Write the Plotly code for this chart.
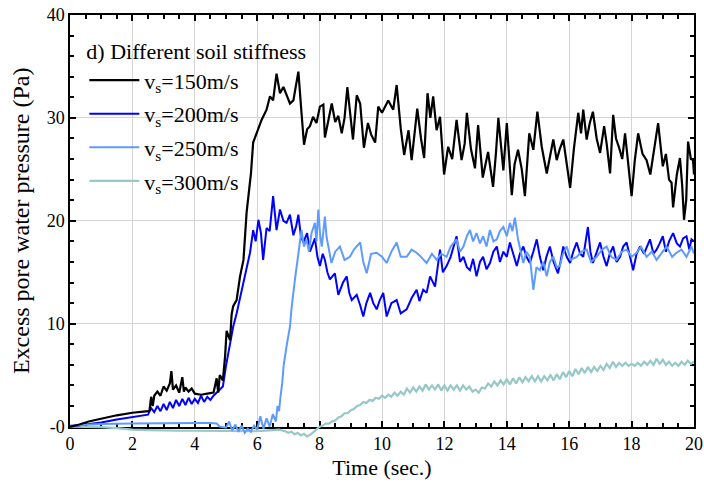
import plotly.graph_objects as go

# ---- data ----
t_150 = [0.0,0.3,0.6,1.0,1.5,2.0,2.5,2.55,2.6,2.65,2.7,2.8,2.9,3.0,3.1,3.2,3.25,3.3,3.4,3.5,3.6,3.65,3.7,3.8,3.9,4.0,4.2,4.4,4.6,4.7,4.75,4.8,4.9,4.97,5.02,5.13,5.18,5.23,5.34,5.45,5.56,5.66,5.75,5.8,5.87,6.03,6.14,6.3,6.41,6.51,6.62,6.73,6.84,6.96,7.05,7.16,7.32,7.42,7.5,7.6,7.69,7.79,7.9,8.01,8.12,8.17,8.23,8.39,8.5,8.6,8.71,8.8,8.89,9.0,9.07,9.19,9.3,9.42,9.55,9.65,9.78,9.88,10.0,10.2,10.36,10.47,10.6,10.71,10.85,10.95,11.05,11.13,11.25,11.35,11.46,11.55,11.64,11.75,11.86,11.99,12.12,12.25,12.39,12.55,12.65,12.72,12.85,12.98,13.08,13.23,13.4,13.56,13.65,13.73,13.89,14.0,14.16,14.25,14.36,14.48,14.58,14.72,14.85,14.98,15.12,15.28,15.4,15.49,15.6,15.7,15.81,15.92,16.03,16.15,16.29,16.38,16.45,16.56,16.66,16.76,16.88,16.99,17.12,17.2,17.31,17.41,17.5,17.6,17.7,17.79,17.9,18.0,18.1,18.21,18.35,18.48,18.6,18.72,18.85,19.0,19.1,19.2,19.28,19.33,19.45,19.55,19.62,19.68,19.75,19.81,19.9,19.97,20.0]
p_150 = [0.0,0.2,0.5,0.8,1.1,1.35,1.5,1.6,2.9,2.0,3.0,3.4,3.0,3.9,3.5,4.2,5.4,3.6,4.0,3.3,4.8,3.4,3.8,3.4,3.7,3.2,3.1,3.2,3.3,4.7,3.3,5.0,4.5,6.8,9.3,8.4,10.9,11.7,12.3,14.6,16.2,20.8,23.0,24.6,27.6,28.8,29.8,30.8,32.1,31.7,34.3,32.4,33.0,32.1,31.4,31.7,34.5,30.5,27.4,28.9,29.2,30.1,29.5,31.1,31.3,28.1,29.0,31.4,29.6,30.2,28.5,30.0,33.0,30.2,27.9,32.2,31.4,27.1,29.5,28.4,27.6,31.1,30.5,31.7,30.8,33.2,29.0,26.4,28.8,25.9,28.4,30.9,28.0,26.1,32.4,30.0,32.1,28.8,30.1,24.5,27.2,26.0,29.8,25.9,27.5,30.5,27.0,25.1,29.3,24.2,26.7,23.3,26.5,30.0,24.9,29.5,22.5,25.5,26.9,25.0,22.4,28.5,26.9,30.6,27.2,24.6,26.5,27.9,25.9,27.0,27.9,25.5,23.2,27.0,30.5,28.5,30.8,27.9,29.5,30.6,28.0,26.6,29.2,27.5,24.6,30.3,28.0,27.1,26.0,28.5,25.5,22.4,25.8,28.5,26.5,25.9,24.5,27.0,29.5,25.3,26.5,24.0,23.7,21.3,24.5,26.1,23.5,20.1,22.0,27.7,26.0,25.9,24.5]

t_200 = [0.0,0.5,1.0,1.5,2.0,2.5,2.6,2.7,2.8,2.9,3.0,3.1,3.2,3.3,3.4,3.5,3.6,3.7,3.8,3.9,4.0,4.1,4.2,4.3,4.4,4.5,4.6,4.7,4.8,4.9,5.0,5.1,5.23,5.34,5.45,5.56,5.66,5.77,5.87,5.95,6.04,6.12,6.19,6.3,6.4,6.51,6.62,6.73,6.84,6.94,7.05,7.16,7.25,7.32,7.4,7.48,7.6,7.69,7.85,7.93,8.01,8.1,8.17,8.25,8.33,8.49,8.6,8.75,8.87,8.95,9.03,9.19,9.3,9.4,9.5,9.62,9.72,9.83,9.93,10.04,10.15,10.3,10.47,10.6,10.79,10.95,11.11,11.2,11.32,11.43,11.54,11.7,11.86,11.95,12.07,12.2,12.39,12.5,12.61,12.72,12.82,12.92,13.03,13.14,13.24,13.35,13.46,13.57,13.68,13.78,13.89,14.0,14.1,14.2,14.32,14.42,14.53,14.63,14.74,14.85,14.96,15.06,15.17,15.27,15.38,15.5,15.64,15.72,15.81,15.92,16.03,16.13,16.24,16.35,16.45,16.6,16.68,16.76,16.88,16.99,17.1,17.2,17.3,17.41,17.52,17.63,17.73,17.84,17.95,18.05,18.16,18.27,18.4,18.5,18.59,18.7,18.8,18.9,19.0,19.1,19.2,19.33,19.45,19.55,19.65,19.76,19.85,19.92,20.0]
p_200 = [0.0,0.2,0.4,0.7,0.94,1.16,1.8,1.4,2.0,1.5,2.2,1.6,2.4,1.8,2.6,2.0,2.7,2.1,2.8,2.2,2.7,2.3,3.0,2.4,2.9,2.6,3.0,3.3,3.6,3.9,5.9,7.5,9.7,11.0,12.5,14.3,15.5,16.9,19.1,18.0,20.1,18.8,16.2,19.3,19.0,22.4,19.1,21.1,20.0,19.8,20.6,18.6,19.5,20.6,18.5,17.9,18.8,17.0,18.3,16.5,15.6,16.8,16.2,15.0,14.3,14.9,12.8,14.0,14.6,13.0,12.3,12.8,11.8,10.7,12.0,13.0,12.0,11.4,12.3,13.0,10.7,12.0,12.3,11.0,11.4,12.5,13.3,12.2,13.3,13.0,14.6,13.6,17.2,15.0,15.6,16.5,18.5,16.0,16.5,15.5,15.2,16.3,14.6,16.0,16.5,15.3,15.9,17.0,17.5,16.0,17.0,16.5,17.9,16.8,15.6,16.8,17.5,16.5,15.9,17.0,18.2,16.5,15.2,16.5,17.5,16.0,14.9,16.0,17.5,16.5,15.9,17.0,17.9,16.8,16.5,19.4,17.0,15.9,17.0,17.9,16.5,15.6,16.8,17.5,16.0,16.5,17.5,17.9,16.5,15.2,16.8,17.5,16.8,17.5,18.2,16.8,17.2,17.8,18.5,17.0,18.0,18.8,17.8,17.5,18.3,18.5,17.2,18.2,18.0]

t_250 = [0.0,0.5,1.0,2.0,3.0,4.0,4.5,4.7,4.8,5.0,5.1,5.2,5.3,5.4,5.5,5.6,5.7,5.8,5.9,6.0,6.1,6.2,6.3,6.4,6.5,6.6,6.65,6.7,6.75,6.8,6.85,6.9,6.95,7.05,7.1,7.21,7.32,7.42,7.5,7.58,7.66,7.74,7.85,7.9,7.96,8.02,8.07,8.17,8.22,8.28,8.38,8.5,8.65,8.8,8.97,9.1,9.3,9.4,9.51,9.65,9.83,10.0,10.15,10.3,10.47,10.6,10.79,10.95,11.11,11.25,11.43,11.6,11.75,11.9,12.07,12.2,12.39,12.5,12.61,12.72,12.82,12.92,13.03,13.14,13.24,13.35,13.46,13.57,13.68,13.78,13.89,14.0,14.1,14.18,14.26,14.36,14.45,14.53,14.63,14.74,14.85,14.95,15.06,15.17,15.28,15.38,15.49,15.6,15.7,15.8,15.92,16.05,16.24,16.4,16.56,16.7,16.88,17.05,17.2,17.35,17.52,17.68,17.84,18.0,18.16,18.3,18.48,18.65,18.8,18.95,19.12,19.3,19.44,19.6,19.76,19.92,20.0]
p_250 = [0.1,0.2,0.25,0.3,0.35,0.35,0.35,0.3,0.0,-0.1,0.5,-0.4,0.2,-0.5,0.1,-0.6,-0.2,-0.5,0.1,-0.3,1.0,-0.2,0.8,0.0,1.2,0.5,2.0,1.5,3.0,4.2,6.0,7.2,8.0,9.7,11.5,14.3,16.9,19.1,17.5,18.2,17.0,18.8,19.8,18.0,21.1,18.5,17.5,20.4,18.5,17.5,15.9,17.0,17.5,16.2,16.5,17.2,17.9,16.0,14.9,16.8,16.9,16.5,15.9,17.0,17.9,16.5,16.5,17.2,16.9,16.5,15.9,16.8,16.2,16.8,16.5,17.5,18.2,17.0,17.5,18.5,19.1,18.0,18.8,17.8,18.5,17.5,19.1,18.0,18.2,19.0,19.4,18.5,19.8,19.0,20.3,18.2,17.0,15.9,17.0,16.5,13.3,15.5,15.2,16.0,14.6,16.0,16.5,15.5,15.6,16.8,17.5,16.2,16.5,17.0,17.2,16.0,16.5,17.2,17.5,16.5,16.2,17.0,17.2,16.5,16.9,17.5,16.5,17.0,16.2,16.8,17.5,16.5,16.9,17.2,16.5,17.5,16.8]

t_300 = [0.0,0.5,1.0,1.5,2.0,2.5,3.0,3.5,4.0,4.5,5.0,5.5,6.0,6.5,6.7,6.9,7.0,7.1,7.2,7.3,7.4,7.5,7.6,7.7,7.8,7.9,8.0,8.1,8.2,8.3,8.4,8.5,8.6,8.7,8.8,8.9,9.0,9.1,9.2,9.3,9.4,9.5,9.6,9.7,9.8,9.9,10.0,10.1,10.2,10.3,10.4,10.5,10.6,10.7,10.8,10.9,11.0,11.1,11.2,11.3,11.4,11.5,11.6,11.7,11.8,11.9,12.0,12.1,12.2,12.3,12.4,12.5,12.6,12.7,12.8,12.9,13.0,13.1,13.2,13.3,13.4,13.5,13.6,13.7,13.8,13.9,14.0,14.1,14.2,14.3,14.4,14.5,14.6,14.7,14.8,14.9,15.0,15.1,15.2,15.3,15.4,15.5,15.6,15.7,15.8,15.9,16.0,16.1,16.2,16.3,16.4,16.5,16.6,16.7,16.8,16.9,17.0,17.1,17.2,17.3,17.4,17.5,17.6,17.7,17.8,17.9,18.0,18.1,18.2,18.3,18.4,18.5,18.6,18.7,18.8,18.9,19.0,19.1,19.2,19.3,19.4,19.5,19.6,19.7,19.8,19.9,20.0]
p_300 = [0.0,0.0,-0.05,-0.15,-0.3,-0.35,-0.4,-0.4,-0.4,-0.4,-0.45,-0.45,-0.45,-0.35,-0.3,-0.45,-0.6,-0.5,-0.75,-0.6,-0.85,-0.7,-0.95,-0.8,-0.5,-0.3,0.0,0.1,0.3,0.3,0.5,0.6,0.9,1.0,1.3,1.3,1.6,1.7,2.0,2.1,2.4,2.3,2.6,2.5,2.8,2.7,3.0,2.8,3.1,2.9,3.3,3.0,3.4,3.1,3.7,3.3,3.8,3.4,3.9,3.5,4.1,3.6,4.0,3.6,4.1,3.5,4.0,3.5,4.0,3.6,4.0,3.5,4.0,3.6,3.9,3.4,3.6,3.3,3.8,3.7,4.2,3.9,4.4,4.0,4.5,4.1,4.6,4.1,4.7,4.2,4.8,4.3,4.8,4.4,4.9,4.4,4.9,4.4,4.9,4.5,5.0,4.5,5.1,4.6,5.3,4.8,5.4,4.9,5.6,5.1,5.7,5.2,5.8,5.3,5.8,5.4,5.9,5.5,6.1,5.7,6.3,5.8,6.2,5.9,6.2,5.9,6.1,5.9,6.2,5.9,6.3,6.0,6.4,6.0,6.6,6.1,6.5,6.0,6.3,5.9,6.2,5.9,6.3,6.0,6.4,6.1,6.3]

names = ["v<sub>s</sub>=150m/s", "v<sub>s</sub>=200m/s", "v<sub>s</sub>=250m/s", "v<sub>s</sub>=300m/s"]
colors = ["#000000", "#0000FF", "#5E9BFF", "#96C8C8"]
widths = [2.2, 2.0, 2.0, 2.2]

x_ticks = [0, 2, 4, 6, 8, 10, 12, 14, 16, 18, 20]
y_ticks = [0, 10, 20, 30, 40]
y_ticktext = ["-0", "10", "20", "30", "40"]

FONT = "Liberation Serif, Times New Roman, serif"

# data subplot extends a little below zero so the curves are not clipped at the axis
Y_LOW = -1.3
d0 = -Y_LOW / (40 - Y_LOW)

fig = go.Figure()
# empty trace so the framed (visible) subplot is drawn
fig.add_trace(go.Scatter(x=[], y=[], mode="lines", showlegend=False, hoverinfo="skip",
                         xaxis="x", yaxis="y"))
series = [(t_300, p_300, 3), (t_200, p_200, 1), (t_250, p_250, 2), (t_150, p_150, 0)]
for t, p, i in series:
    fig.add_trace(go.Scatter(
        x=t, y=p, mode="lines", name=names[i],
        line=dict(color=colors[i], width=widths[i]),
        legendrank=i + 1, legendgroup=str(i),
        xaxis="x2", yaxis="y2",
    ))

axis_common = dict(
    showline=True, linecolor="black", linewidth=1.5, mirror="allticks",
    ticks="inside", ticklen=6, tickwidth=1.5, tickcolor="black",
    showgrid=True, gridcolor="#d4d4d4", gridwidth=1,
    zeroline=False, automargin=False,
    tickfont=dict(family=FONT, size=18, color="black"),
)

fig.update_layout(
    xaxis=dict(
        range=[0, 20], tickvals=x_ticks, domain=[0, 1], anchor="y",
        minor=dict(dtick=0.5, ticks="inside", ticklen=4, tickcolor="black", showgrid=False),
        title=dict(text="Time (sec.)", font=dict(family=FONT, size=22, color="black"), standoff=7),
        **axis_common,
    ),
    yaxis=dict(
        range=[0, 40], tickvals=y_ticks, ticktext=y_ticktext, domain=[d0, 1], anchor="x",
        minor=dict(dtick=2, ticks="inside", ticklen=4, tickcolor="black", showgrid=False),
        title=dict(text="Excess pore water pressure (Pa)", font=dict(family=FONT, size=24, color="black"), standoff=10),
        **axis_common,
    ),
    xaxis2=dict(range=[0, 20], domain=[0, 1], anchor="y2", visible=False),
    yaxis2=dict(range=[Y_LOW, 40], domain=[0, 1], anchor="x2", visible=False),
)

fig.update_layout(
    width=704, height=484,
    margin=dict(l=70, r=10, t=15, b=44, autoexpand=False),
    paper_bgcolor="white", plot_bgcolor="rgba(0,0,0,0)",
    showlegend=True,
    legend=dict(
        x=0.023, y=0.963, xanchor="left", yanchor="top",
        bgcolor="rgba(0,0,0,0)", borderwidth=0,
        font=dict(family=FONT, size=22, color="black"),
        title=dict(text="d) Different soil stiffness", font=dict(family=FONT, size=22, color="black")),
        tracegroupgap=2, itemwidth=50,
    ),
)

fig.write_html("out.html")
